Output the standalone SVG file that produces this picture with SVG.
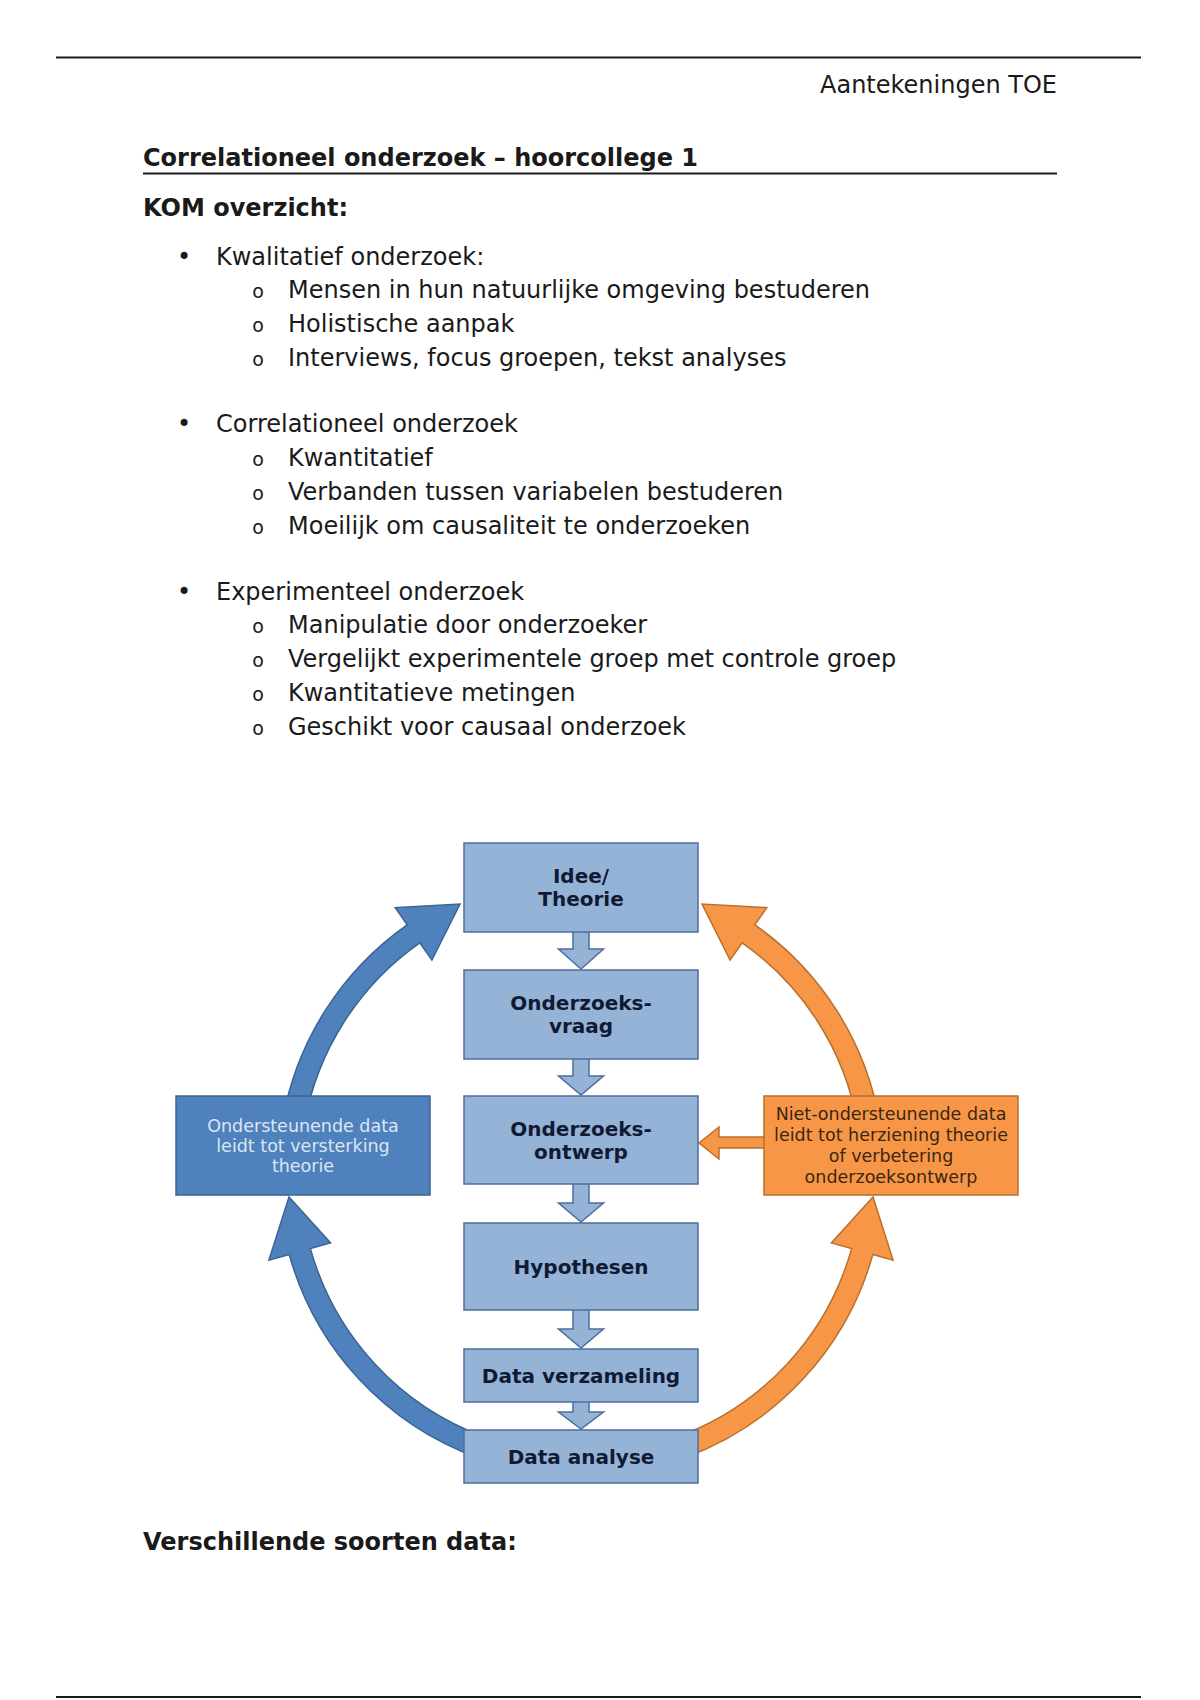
<svg xmlns="http://www.w3.org/2000/svg" width="1200" height="1700" viewBox="0 0 1200 1700">
<style>
.t{font-family:"DejaVu Sans",Verdana,sans-serif;font-size:24px;fill:#1a1a1a}
.b{font-weight:bold}
.o{font-family:"DejaVu Sans",sans-serif;font-size:19px;fill:#1a1a1a;text-anchor:middle}
.box{fill:#95b3d7;stroke:#4d6d9c;stroke-width:1.5}
.lbl{font-family:"DejaVu Sans",Verdana,sans-serif;font-weight:bold;font-size:20px;fill:#111a33;text-anchor:middle}
.blue{fill:#4f81bd;stroke:#3a6494;stroke-width:1.5}
.orange{fill:#f79646;stroke:#b8702f;stroke-width:1.5}
.wt{font-family:"DejaVu Sans",Verdana,sans-serif;font-size:17.5px;fill:#dce6f2;text-anchor:middle}
.dt{font-family:"DejaVu Sans",Verdana,sans-serif;font-size:17.5px;fill:#3b2612;text-anchor:middle}
</style>
<rect width="1200" height="1700" fill="#ffffff"/>
<line x1="56" y1="57.5" x2="1141" y2="57.5" stroke="#1a1a1a" stroke-width="2"/>
<line x1="56" y1="1697" x2="1141" y2="1697" stroke="#1a1a1a" stroke-width="2"/>
<text class="t" x="1057" y="93" text-anchor="end">Aantekeningen TOE</text>
<text class="t b" x="143" y="165.5">Correlationeel onderzoek – hoorcollege 1</text>
<line x1="143" y1="173.5" x2="1057" y2="173.5" stroke="#1a1a1a" stroke-width="2"/>
<text class="t b" x="143" y="216">KOM overzicht:</text>

<text class="t" x="184" y="265" text-anchor="middle">•</text>
<text class="t" x="216" y="265">Kwalitatief onderzoek:</text>
<text class="o" x="258" y="297.5">o</text><text class="t" x="288" y="297.5">Mensen in hun natuurlijke omgeving bestuderen</text>
<text class="o" x="258" y="331.5">o</text><text class="t" x="288" y="331.5">Holistische aanpak</text>
<text class="o" x="258" y="366">o</text><text class="t" x="288" y="366">Interviews, focus groepen, tekst analyses</text>

<text class="t" x="184" y="432" text-anchor="middle">•</text>
<text class="t" x="216" y="432">Correlationeel onderzoek</text>
<text class="o" x="258" y="465.5">o</text><text class="t" x="288" y="465.5">Kwantitatief</text>
<text class="o" x="258" y="499.5">o</text><text class="t" x="288" y="499.5">Verbanden tussen variabelen bestuderen</text>
<text class="o" x="258" y="534">o</text><text class="t" x="288" y="534">Moeilijk om causaliteit te onderzoeken</text>

<text class="t" x="184" y="600" text-anchor="middle">•</text>
<text class="t" x="216" y="600">Experimenteel onderzoek</text>
<text class="o" x="258" y="632.5">o</text><text class="t" x="288" y="632.5">Manipulatie door onderzoeker</text>
<text class="o" x="258" y="666.5">o</text><text class="t" x="288" y="666.5">Vergelijkt experimentele groep met controle groep</text>
<text class="o" x="258" y="701">o</text><text class="t" x="288" y="701">Kwantitatieve metingen</text>
<text class="o" x="258" y="734.5">o</text><text class="t" x="288" y="734.5">Geschikt voor causaal onderzoek</text>

<text class="t b" x="143" y="1549.5">Verschillende soorten data:</text>

<g id="connectors">
<path class="blue" d="M 304.3 1124.2 A 281 281 0 0 1 419.8 942.8 L 431.9 960 L 460 904 L 395.2 907.6 L 407.2 924.8 A 303 303 0 0 0 282.6 1120.4 Z"/>
<path class="blue" d="M 484.9 1437.1 A 281 281 0 0 1 310.4 1248.6 L 330.6 1242.9 L 289 1197 L 268.9 1260.1 L 289.2 1254.5 A 303 303 0 0 0 477.4 1457.7 Z"/>
<path class="orange" d="M 857.7 1124.2 A 281 281 0 0 0 742.2 942.8 L 730.1 960 L 702 904 L 766.8 907.6 L 754.8 924.8 A 303 303 0 0 1 879.4 1120.4 Z"/>
<path class="orange" d="M 677.1 1437.1 A 281 281 0 0 0 851.6 1248.6 L 831.4 1242.9 L 873 1197 L 893.1 1260.1 L 872.8 1254.5 A 303 303 0 0 1 684.6 1457.7 Z"/>
<path class="orange" d="M 766 1137 L 719 1137 L 719 1127 L 699 1143 L 719 1159 L 719 1148 L 766 1148 Z"/>
<path class="box" d="M573 931 L589 931 L589 949 L603.5 949 L581 969 L558.5 949 L573 949 Z"/>
<path class="box" d="M573 1058 L589 1058 L589 1076 L603.5 1076 L581 1095 L558.5 1076 L573 1076 Z"/>
<path class="box" d="M573 1183 L589 1183 L589 1203 L603.5 1203 L581 1222 L558.5 1203 L573 1203 Z"/>
<path class="box" d="M573 1309 L589 1309 L589 1329 L603.5 1329 L581 1348 L558.5 1329 L573 1329 Z"/>
<path class="box" d="M573 1401 L589 1401 L589 1412 L603.5 1412 L581 1429 L558.5 1412 L573 1412 Z"/>
</g>

<g id="idee"><rect class="box" x="464" y="843" width="234" height="89"/>
<text class="lbl" x="581" y="883">Idee/</text><text class="lbl" x="581" y="906">Theorie</text></g>
<g id="vraag"><rect class="box" x="464" y="970" width="234" height="89"/>
<text class="lbl" x="581" y="1010">Onderzoeks-</text><text class="lbl" x="581" y="1033">vraag</text></g>
<g id="ontwerp"><rect class="box" x="464" y="1096" width="234" height="88"/>
<text class="lbl" x="581" y="1135.5">Onderzoeks-</text><text class="lbl" x="581" y="1158.5">ontwerp</text></g>
<g id="hypothesen"><rect class="box" x="464" y="1223" width="234" height="87"/>
<text class="lbl" x="581" y="1274">Hypothesen</text></g>
<g id="verzameling"><rect class="box" x="464" y="1349" width="234" height="53"/>
<text class="lbl" x="581" y="1383">Data verzameling</text></g>
<g id="analyse"><rect class="box" x="464" y="1430" width="234" height="53"/>
<text class="lbl" x="581" y="1464">Data analyse</text></g>

<g id="ondersteunend"><rect class="blue" x="176" y="1096" width="254" height="99"/>
<text class="wt" x="303" y="1132">Ondersteunende data</text>
<text class="wt" x="303" y="1152">leidt tot versterking</text>
<text class="wt" x="303" y="1172">theorie</text></g>
<g id="niet-ondersteunend"><rect class="orange" x="764" y="1096" width="254" height="99"/>
<text class="dt" x="891" y="1120">Niet-ondersteunende data</text>
<text class="dt" x="891" y="1141">leidt tot herziening theorie</text>
<text class="dt" x="891" y="1162">of verbetering</text>
<text class="dt" x="891" y="1183">onderzoeksontwerp</text></g>
</svg>
